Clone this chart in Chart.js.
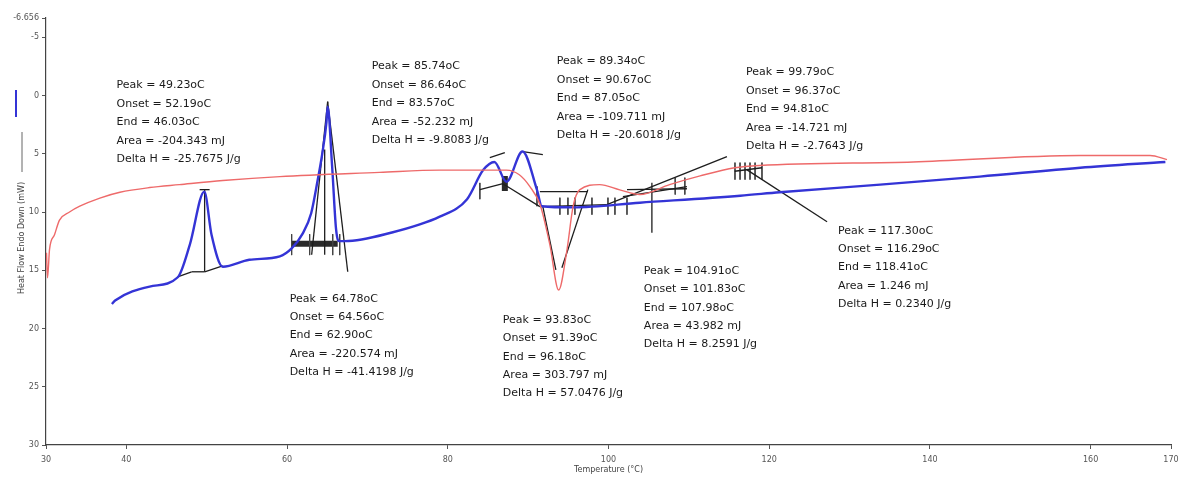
<!DOCTYPE html>
<html>
<head>
<meta charset="utf-8">
<script src="https://cdn.jsdelivr.net/npm/chart.js@4"></script>
<style>
  body { margin: 0; background: #fff; }
  canvas { display: block; }
</style>
</head>
<body>
<canvas id="dsc" width="1179" height="478"></canvas>
<script>
// ---- data ----
const tempBlue = [38.2, 38.6, 42.9, 46.4, 47.9, 49.7, 50.6, 52.0, 55.3, 59.1, 60.6, 61.9, 63.0, 63.8, 64.4, 64.9, 65.05, 65.6, 66.1, 66.5, 67.2, 72.8, 79.0, 82.4, 84.4, 85.8, 87.3, 89.3, 91.1, 91.7, 95.6, 103.9, 116.4, 121.3, 133.8, 146.2, 158.7, 169.3];
const heatBlue = [17.9, 17.6, 16.4, 15.6, 12.8, 8.25, 11.95, 14.7, 14.1, 13.8, 13.1, 11.9, 10.1, 7.3, 4.9, 2.3, 0.95, 6.0, 11.5, 12.5, 12.5, 11.8, 10.4, 8.9, 6.4, 5.7, 7.4, 4.8, 8.1, 9.5, 9.6, 9.2, 8.6, 8.3, 7.65, 6.96, 6.2, 5.7];

const tempRed = [30.06, 30.19, 30.44, 31.06, 31.68, 32.93, 34.2, 36.7, 39.2, 42.9, 46.6, 52.0, 59.1, 71.5, 79.0, 87.3, 88.9, 90.2, 91.5, 92.7, 93.8, 94.8, 95.6, 96.4, 98.9, 101.4, 103.9, 107.6, 111.4, 115.7, 118.8, 137.9, 158.7, 167.4, 169.5];
const heatRed = [13.5, 15.65, 13.2, 11.95, 10.7, 10.0, 9.5, 8.8, 8.3, 7.9, 7.65, 7.3, 6.96, 6.6, 6.4, 6.4, 6.8, 7.8, 9.4, 12.8, 16.7, 13.4, 9.5, 8.1, 7.65, 8.1, 8.5, 7.65, 6.9, 6.2, 6.0, 5.7, 5.15, 5.15, 5.5];

const xTicks = [30, 40, 60, 80, 100, 120, 140, 160, 170];
const yTicks = [-6.656, -5, 0, 5, 10, 15, 20, 25, 30];

// analysis construction lines [t1, h1, t2, h2]
const fitLines = [
  [49.74, 8.08, 49.74, 15.13], [46.38, 15.56, 48.12, 15.13], [48.12, 15.13, 49.74, 15.13], [49.74, 15.13, 51.98, 14.62], [49.12, 8.08, 50.36, 8.08],
  [63.06, 13.67, 65.05, 0.52], [65.05, 0.52, 67.55, 15.13], [64.68, 4.64, 64.68, 13.67],
  [83.99, 8.08, 86.86, 7.57], [85.23, 5.33, 87.1, 4.9], [89.35, 4.82, 91.83, 5.07], [86.86, 7.57, 91.46, 9.54],
  [91.46, 8.25, 97.43, 8.25], [91.83, 9.54, 93.45, 14.96], [94.2, 14.79, 97.43, 8.08],
  [91.46, 9.54, 99.8, 9.37], [99.8, 9.37, 114.74, 5.24], [101.79, 8.68, 109.76, 7.82], [102.3, 8.08, 109.76, 8.0],
  [105.4, 7.48, 105.4, 11.78],
  [115.7, 6.5, 119.1, 6.2], [117.2, 6.36, 127.2, 10.83]
];
// short limit markers [t, hTop, hBottom]
const limitTicks = [
  [60.57, 11.9, 13.7], [62.81, 11.9, 13.7], [65.68, 11.9, 13.7], [66.55, 11.9, 13.7],
  [83.99, 7.5, 8.9], [91.1, 7.8, 9.5],
  [93.95, 8.77, 10.23], [94.95, 8.77, 10.23], [95.82, 8.77, 10.23], [97.94, 8.77, 10.23], [99.93, 8.77, 10.23], [100.8, 8.77, 10.23], [102.3, 8.77, 10.23],
  [108.3, 7.05, 8.5], [109.5, 7.05, 8.5],
  [115.74, 5.76, 7.22], [116.37, 5.76, 7.22], [116.99, 5.76, 7.22], [117.61, 5.76, 7.22], [118.24, 5.76, 7.22], [119.1, 5.76, 7.22]
];
// heavy baseline bars [t1, h1, t2, h2]
const heavyBars = [
  [60.57, 12.73, 66.3, 12.73], [87.1, 6.9, 87.1, 8.2]
];

// peak report boxes
const noteTemp = [38.78, 70.53, 93.57, 117.1, 60.32, 86.85, 104.4, 128.56];
const noteHeat = [-0.86, -2.49, -2.92, -1.98, 17.45, 19.26, 15.05, 11.61];
const noteText = [
  ['Peak = 49.23oC', 'Onset = 52.19oC', 'End = 46.03oC', 'Area = -204.343 mJ', 'Delta H = -25.7675 J/g'],
  ['Peak = 85.74oC', 'Onset = 86.64oC', 'End = 83.57oC', 'Area = -52.232 mJ', 'Delta H = -9.8083 J/g'],
  ['Peak = 89.34oC', 'Onset = 90.67oC', 'End = 87.05oC', 'Area = -109.711 mJ', 'Delta H = -20.6018 J/g'],
  ['Peak = 99.79oC', 'Onset = 96.37oC', 'End = 94.81oC', 'Area = -14.721 mJ', 'Delta H = -2.7643 J/g'],
  ['Peak = 64.78oC', 'Onset = 64.56oC', 'End = 62.90oC', 'Area = -220.574 mJ', 'Delta H = -41.4198 J/g'],
  ['Peak = 93.83oC', 'Onset = 91.39oC', 'End = 96.18oC', 'Area = 303.797 mJ', 'Delta H = 57.0476 J/g'],
  ['Peak = 104.91oC', 'Onset = 101.83oC', 'End = 107.98oC', 'Area = 43.982 mJ', 'Delta H = 8.2591 J/g'],
  ['Peak = 117.30oC', 'Onset = 116.29oC', 'End = 118.41oC', 'Area = 1.246 mJ', 'Delta H = 0.2340 J/g']
];

// ---- build datasets ----
const zip = (xs, ys) => xs.map((x, i) => ({ x: x, y: ys[i] }));
const segSet = (pts, color, width) => ({
  data: pts, borderColor: color, borderWidth: width, pointRadius: 0, fill: false, tension: 0
});

const datasets = [
  { data: zip(tempRed, heatRed), borderColor: '#ee6a6a', borderWidth: 1.4, pointRadius: 0, cubicInterpolationMode: 'monotone' },
  { data: zip(tempBlue, heatBlue), borderColor: '#3434d6', borderWidth: 2.4, pointRadius: 0, cubicInterpolationMode: 'monotone' }
];
fitLines.forEach(s => datasets.push(segSet([{ x: s[0], y: s[1] }, { x: s[2], y: s[3] }], '#1e1e1e', 1.3)));
limitTicks.forEach(s => datasets.push(segSet([{ x: s[0], y: s[1] }, { x: s[0], y: s[2] }], '#444', 1)));
heavyBars.forEach(s => datasets.push(segSet([{ x: s[0], y: s[1] }, { x: s[2], y: s[3] }], '#2a2a2a', 6)));

// ---- text overlay ----
const notesPlugin = {
  id: 'notes',
  afterDraw(chart) {
    const { ctx, scales: { x, y } } = chart;
    ctx.save();
    ctx.font = '11px "DejaVu Sans"';
    ctx.fillStyle = '#1a1a1a';
    ctx.textBaseline = 'middle';
    ctx.textAlign = 'left';
    noteText.forEach((lines, i) => {
      const px = x.getPixelForValue(noteTemp[i]);
      const py = y.getPixelForValue(noteHeat[i]);
      lines.forEach((s, j) => ctx.fillText(s, px, py + j * 18.4));
    });

    // y axis caption with its little line key
    ctx.strokeStyle = '#3434d6';
    ctx.lineWidth = 2;
    ctx.beginPath(); ctx.moveTo(16, 90); ctx.lineTo(16, 117); ctx.stroke();
    ctx.strokeStyle = '#666';
    ctx.lineWidth = 1;
    ctx.beginPath(); ctx.moveTo(22, 132); ctx.lineTo(22, 172); ctx.stroke();
    ctx.translate(22, 238);
    ctx.rotate(-Math.PI / 2);
    ctx.font = '8px "DejaVu Sans"';
    ctx.fillStyle = '#444';
    ctx.textAlign = 'center';
    ctx.fillText('Heat Flow Endo Down (mW)', 0, 0);
    ctx.restore();
  }
};

new Chart(document.getElementById('dsc'), {
  type: 'line',
  data: { datasets },
  options: {
    responsive: false,
    animation: false,
    layout: { padding: { top: 18, right: 8, left: 0, bottom: 0 } },
    plugins: { legend: { display: false }, tooltip: { enabled: false } },
    scales: {
      x: {
        type: 'linear', min: 30, max: 170,
        afterBuildTicks: s => { s.ticks = xTicks.map(v => ({ value: v })); },
        afterFit: s => { s.height = 33; s.paddingRight = 0; s.paddingLeft = 0; },
        ticks: { color: '#555', font: { size: 8, family: 'DejaVu Sans' }, padding: 6, autoSkip: false, maxRotation: 0 },
        grid: { drawOnChartArea: false, tickLength: 4, color: '#555' },
        border: { color: '#444', width: 1.2 },
        title: { display: true, text: 'Temperature (°C)', color: '#444', font: { size: 8, family: 'DejaVu Sans' }, padding: { top: 0, bottom: 3 } }
      },
      y: {
        type: 'linear', reverse: true, min: -6.656, max: 30,
        afterBuildTicks: s => { s.ticks = yTicks.map(v => ({ value: v })); },
        afterFit: s => { s.width = 46; s.paddingTop = 0; s.paddingBottom = 0; },
        ticks: { color: '#555', font: { size: 8, family: 'DejaVu Sans' }, padding: 3, autoSkip: false,
                 callback: v => String(v) },
        grid: { drawOnChartArea: false, tickLength: 4, color: '#555' },
        border: { color: '#444', width: 1.2 }
      }
    }
  },
  plugins: [notesPlugin]
});
</script>
</body>
</html>
